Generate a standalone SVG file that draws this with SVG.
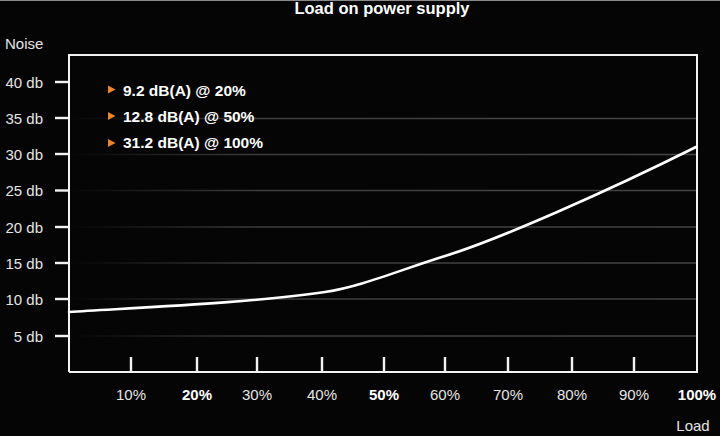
<svg xmlns="http://www.w3.org/2000/svg" width="720" height="436" viewBox="0 0 720 436">
  <defs>
    <linearGradient id="gridFade" gradientUnits="userSpaceOnUse" x1="69" y1="0" x2="696" y2="0">
      <stop offset="0" stop-color="#3c3c3c" stop-opacity="0"/>
      <stop offset="0.3" stop-color="#3c3c3c" stop-opacity="1"/>
      <stop offset="1" stop-color="#444444" stop-opacity="1"/>
    </linearGradient>
    <style>
      .axis { stroke: #f2f2f2; stroke-width: 2; fill: none; }
      .tick { stroke: #f2f2f2; stroke-width: 2.4; }
      .grid { stroke: url(#gridFade); stroke-width: 1.6; }
      .ylab { font-family: "Liberation Sans", Arial, sans-serif; font-size: 15px; fill: #e4e4e4; text-anchor: end; }
      .xlab { font-family: "Liberation Sans", Arial, sans-serif; font-size: 15px; fill: #e4e4e4; text-anchor: middle; }
      .xbold { font-weight: bold; fill: #ffffff; }
      .legend { font-family: "Liberation Sans", Arial, sans-serif; font-size: 15.5px; font-weight: bold; fill: #ffffff; }
      .tri { fill: #e8852e; }
      .title { font-family: "Liberation Sans", Arial, sans-serif; font-size: 16.5px; font-weight: bold; fill: #ffffff; text-anchor: middle; }
      .curve { stroke: #ffffff; stroke-width: 2.6; fill: none; stroke-linecap: round; }
    </style>
  </defs>
  <rect x="0" y="0" width="720" height="436" fill="#050505"/>
  <line x1="0" y1="0.5" x2="720" y2="0.5" stroke="#8a8a8a" stroke-width="1"/>

  <text id="title" class="title" x="382" y="14">Load on power supply</text>

  <g id="grid">
    <line class="grid" x1="69" y1="118.5" x2="696" y2="118.5"/>
    <line class="grid" x1="69" y1="154.5" x2="696" y2="154.5"/>
    <line class="grid" x1="69" y1="190.5" x2="696" y2="190.5"/>
    <line class="grid" x1="69" y1="227" x2="696" y2="227"/>
    <line class="grid" x1="69" y1="263" x2="696" y2="263"/>
    <line class="grid" x1="69" y1="299" x2="696" y2="299"/>
    <line class="grid" x1="69" y1="336" x2="696" y2="336"/>
  </g>

  <g id="frame">
    <polyline class="axis" points="69,372 69,55 697,55 697,372 69,372"/>
  </g>

  <g id="y-axis">
    <text class="ylab" x="5" y="49" style="text-anchor:start">Noise</text>
    <line class="tick" x1="55" y1="82" x2="69" y2="82"/>
    <line class="tick" x1="55" y1="118" x2="69" y2="118"/>
    <line class="tick" x1="55" y1="154" x2="69" y2="154"/>
    <line class="tick" x1="55" y1="190.5" x2="69" y2="190.5"/>
    <line class="tick" x1="55" y1="227" x2="69" y2="227"/>
    <line class="tick" x1="55" y1="263" x2="69" y2="263"/>
    <line class="tick" x1="55" y1="299" x2="69" y2="299"/>
    <line class="tick" x1="55" y1="336" x2="69" y2="336"/>
    <text class="ylab" x="43" y="87.5">40 db</text>
    <text class="ylab" x="43" y="123.5">35 db</text>
    <text class="ylab" x="43" y="159.5">30 db</text>
    <text class="ylab" x="43" y="196">25 db</text>
    <text class="ylab" x="43" y="232.5">20 db</text>
    <text class="ylab" x="43" y="268.5">15 db</text>
    <text class="ylab" x="43" y="304.5">10 db</text>
    <text class="ylab" x="43" y="341.5">5 db</text>
  </g>

  <g id="x-axis">
    <line class="tick" x1="131" y1="357" x2="131" y2="372"/>
    <line class="tick" x1="197" y1="357" x2="197" y2="372"/>
    <line class="tick" x1="257" y1="357" x2="257" y2="372"/>
    <line class="tick" x1="322" y1="357" x2="322" y2="372"/>
    <line class="tick" x1="384" y1="357" x2="384" y2="372"/>
    <line class="tick" x1="445" y1="357" x2="445" y2="372"/>
    <line class="tick" x1="508" y1="357" x2="508" y2="372"/>
    <line class="tick" x1="572" y1="357" x2="572" y2="372"/>
    <line class="tick" x1="634" y1="357" x2="634" y2="372"/>
    <text class="xlab" x="131" y="400">10%</text>
    <text class="xlab xbold" x="197" y="400">20%</text>
    <text class="xlab" x="257" y="400">30%</text>
    <text class="xlab" x="322" y="400">40%</text>
    <text class="xlab xbold" x="384" y="400">50%</text>
    <text class="xlab" x="445" y="400">60%</text>
    <text class="xlab" x="508" y="400">70%</text>
    <text class="xlab" x="572" y="400">80%</text>
    <text class="xlab" x="634" y="400">90%</text>
    <text class="xlab xbold" x="697" y="400">100%</text>
    <text class="xlab" x="693" y="431">Load</text>
  </g>

  <g id="legend">
    <polygon class="tri" points="108,85.5 108,93.5 115.5,89.5"/>
    <text class="legend" x="123" y="96">9.2 dB(A) @ 20%</text>
    <polygon class="tri" points="108,112 108,120 115.5,116"/>
    <text class="legend" x="123" y="122">12.8 dB(A) @ 50%</text>
    <polygon class="tri" points="108,139 108,147 115.5,143"/>
    <text class="legend" x="123" y="148">31.2 dB(A) @ 100%</text>
  </g>

  <g id="connectors">
    <path class="curve" d="M69,312 C150,307 260,302 325,292 C360,287 400,270 445,256 C500,239 610,190 696,147"/>
  </g>
</svg>
